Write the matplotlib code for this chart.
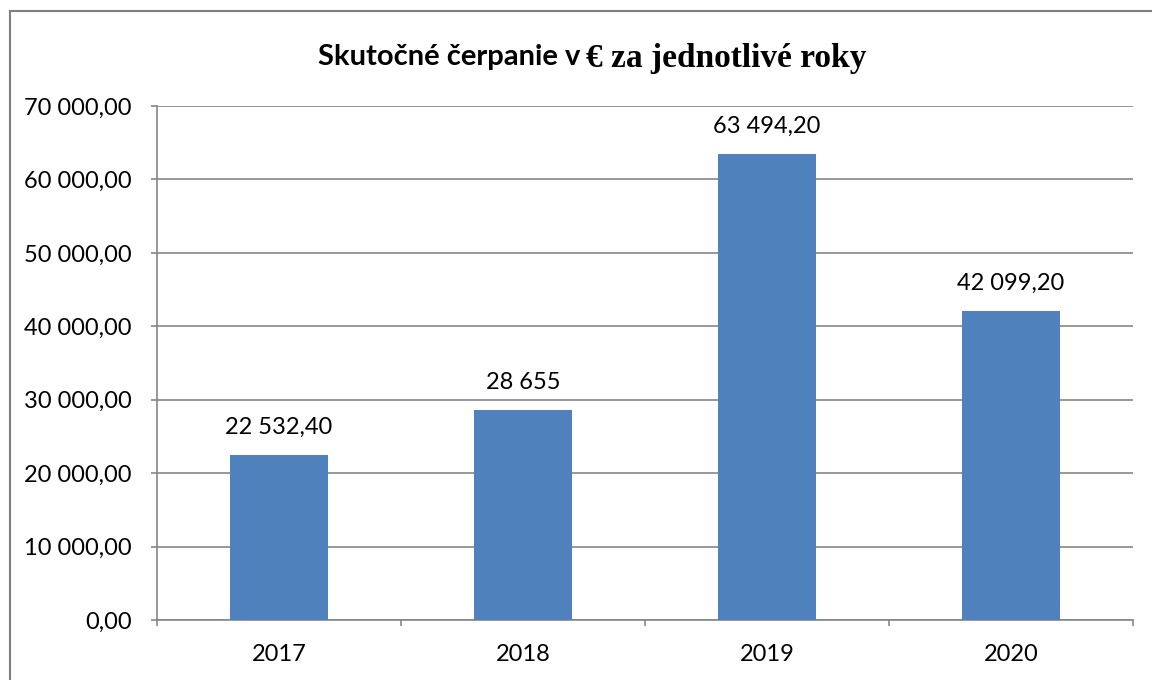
import matplotlib.pyplot as plt
from matplotlib.ticker import FuncFormatter, FixedLocator
from matplotlib.patches import Rectangle

years = ['2017', '2018', '2019', '2020']
values = [22532.40, 28655, 63494.20, 42099.20]
value_labels = ['22 532,40', '28 655', '63 494,20', '42 099,20']

bar_color = '#4F81BD'
grid_color = '#868686'
sans = ['Lato', 'DejaVu Sans']
serif = ['Liberation Serif', 'DejaVu Serif']

fig = plt.figure(figsize=(11.52, 6.8), dpi=100)
W, H = 1152, 680

# outer chart frame (left and top edges visible)
fig.patches.append(Rectangle((10 / W, -0.1), 1.2, 1 - 11 / H + 0.1, transform=fig.transFigure,
                             fill=False, edgecolor='#7f7f7f', linewidth=1.5))

ax = fig.add_axes([157 / W, 1 - 620 / H, 976 / W, (620 - 106) / H])
x = range(len(years))
ax.bar(x, values, width=0.4, color=bar_color, zorder=3)

ax.set_xlim(-0.5, len(years) - 0.5)
ax.set_ylim(0, 70000)
ax.set_yticks(range(0, 70001, 10000))
ax.yaxis.set_major_formatter(FuncFormatter(lambda v, p: f"{v:,.2f}".replace(',', ' ').replace('.', ',')))
ax.set_xticks(list(x))
ax.set_xticklabels(years)
ax.xaxis.set_minor_locator(FixedLocator([i - 0.5 for i in range(len(years) + 1)]))

ax.grid(axis='y', color=grid_color, linewidth=1.2, zorder=0)
for s in ['top', 'right']:
    ax.spines[s].set_visible(False)
for s in ['left', 'bottom']:
    ax.spines[s].set_color(grid_color)
    ax.spines[s].set_linewidth(1.2)

ax.tick_params(axis='y', length=4.5, width=1.2, color=grid_color, pad=13.5)
ax.tick_params(axis='x', which='major', length=0, pad=17)
ax.tick_params(axis='x', which='minor', length=4.5, width=1.2, color=grid_color)
for lab in ax.get_xticklabels() + ax.get_yticklabels():
    lab.set_fontfamily(sans)
    lab.set_fontsize(17)

for i, (v, lab) in enumerate(zip(values, value_labels)):
    ax.annotate(lab, (i, v), xytext=(0, 12), textcoords='offset points',
                ha='center', va='bottom', fontsize=17, family=sans)

# title in two fonts, as in the original
fig.text(580 / W, 1 - 57 / H, 'Skutočné čerpanie v', ha='right', va='center',
         fontsize=21, fontweight='bold', family=sans)
fig.text(586 / W, 1 - 58 / H, '€ za jednotlivé roky', ha='left', va='center',
         fontsize=24, fontweight='bold', family=serif)

fig.savefig('out.png', dpi=100)
